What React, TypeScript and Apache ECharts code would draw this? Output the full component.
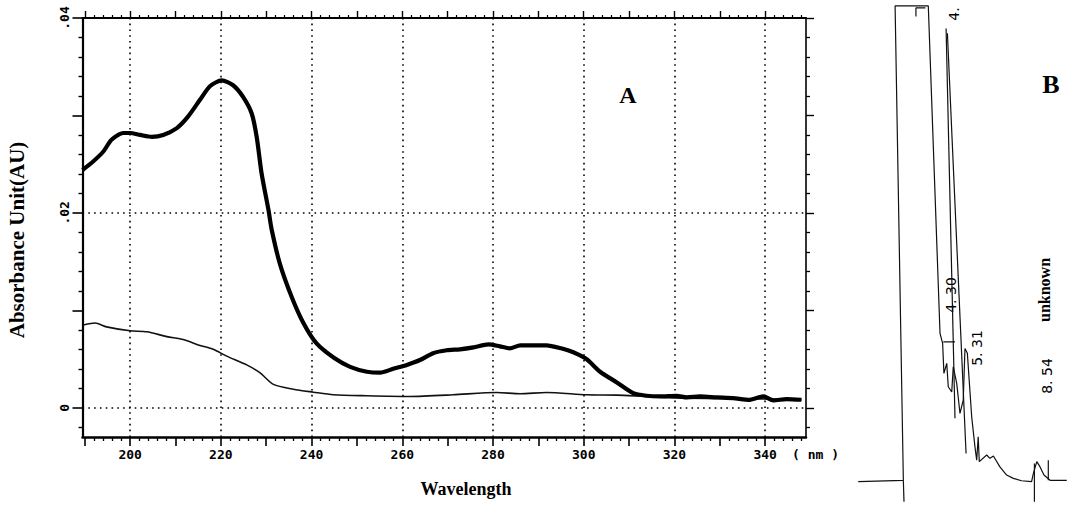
import React, { useEffect, useRef } from "react";
import * as echarts from "echarts";

// Panel A: UV spectrum (wavelength nm vs absorbance AU)
const sampleNm = [189.5, 191.9, 194.1, 195.9, 198.5, 200, 202.2, 204.8, 207.3, 210.3, 212.8, 215.4, 217.6, 220.2, 222.7, 224.9, 226.8, 227.9, 229.0, 230.5, 231.2, 233.0, 235.6, 238.2, 241.1, 245.0, 248.5, 252.2, 255.1, 258.0, 261.0, 263.9, 266.8, 269.8, 272.7, 275.7, 279.0, 281.5, 283.7, 286.0, 288.9, 291.8, 295.0, 297.7, 300.6, 303.6, 307.3, 310.9, 313.9, 316.8, 320.5, 322.7, 325.7, 329.3, 332.9, 336.6, 339.6, 341.8, 344.7, 348.0];
const sampleAU = [0.0244, 0.0253, 0.0263, 0.0275, 0.0282, 0.0282, 0.0280, 0.0278, 0.0280, 0.0287, 0.0299, 0.0316, 0.0330, 0.0336, 0.0331, 0.0319, 0.0302, 0.0278, 0.0240, 0.0203, 0.0183, 0.0148, 0.0114, 0.0087, 0.0066, 0.0051, 0.0042, 0.0037, 0.0036, 0.0040, 0.0044, 0.0049, 0.0056, 0.0059, 0.0060, 0.0062, 0.0065, 0.0063, 0.0061, 0.0064, 0.0064, 0.0064, 0.0061, 0.0057, 0.0050, 0.0037, 0.0026, 0.0015, 0.00123, 0.00116, 0.00123, 0.00106, 0.00116, 0.00106, 0.00099, 0.00082, 0.00116, 0.00075, 0.00089, 0.00082];
const blankNm = [189.7, 192.3, 194.8, 200, 203.7, 208.1, 211.7, 215.4, 218.3, 221.3, 225.7, 228.6, 231.6, 236.0, 240.4, 244.8, 252.2, 261.7, 271.2, 280.8, 286.0, 291.8, 300.6, 307.3, 312, 320, 330, 340, 348];
const blankAU = [0.0085, 0.0087, 0.0083, 0.0079, 0.0078, 0.0073, 0.0070, 0.0064, 0.0060, 0.0053, 0.0044, 0.0036, 0.0024, 0.0019, 0.0016, 0.00133, 0.00123, 0.00116, 0.00133, 0.00157, 0.00144, 0.00157, 0.00133, 0.0013, 0.0012, 0.0010, 0.00095, 0.0009, 0.0008];

const xMajorTicks = [190, 200, 210, 220, 230, 240, 250, 260, 270, 280, 290, 300, 310, 320, 330, 340];
const xLabels = [200, 220, 240, 260, 280, 300, 320, 340];
const yMajorTicks = [0, 0.01, 0.02, 0.03, 0.04];
const yLabels = [0, 0.02, 0.04];
const xGridValues = [200, 220, 240, 260, 280, 300, 320, 340];
const yGridValues = [0, 0.02];

// Panel B: chromatogram (time min vs response)
const chromTrace = [[0.30, 0.3], [2.38, 0.6], [2.00, 100], [3.53, 100], [4.07, 31.4], [4.19, 29.3], [4.25, 23.0], [4.38, 25.1], [4.45, 20.2], [4.61, 19.1], [4.68, 24.4], [4.84, 20.9], [4.99, 14.6], [5.14, 17.4], [5.22, 28.2], [5.33, 27.2], [5.53, 13.9], [5.68, 7.6], [5.76, 4.8], [5.83, 9.7], [5.88, 4.5], [6.22, 5.9], [6.37, 5.2], [6.53, 5.7], [6.83, 3.4], [7.14, 1.7], [7.45, 1.0], [7.83, 0.5], [8.29, 0.3], [8.37, 2.0], [8.53, 4.5], [8.68, 3.4], [8.86, 1.7], [9.14, 0.6], [9.91, 0.6]];
const peakLine1 = [[4.35, 95.3], [4.76, 13.6]];
const peakLine2 = [[4.41, 94.3], [5.27, 6.2]];
const bar430 = [[4.22, 29.6], [4.76, 29.6]];
const marker1 = [[2.38, 0.6], [2.41, -3.9]];
const marker2 = [[8.42, 4.1], [8.42, -3.9]];
const marker3 = [[9.06, 4.8], [9.06, 0.6]];
const bracket = [[2.96, 97.8], [2.96, 99.6], [3.4, 99.6]];

const xMinorTicks: number[] = [];
for (let v = 190; v <= 348; v += 2) if (v % 10 !== 0) xMinorTicks.push(v);
const yMinorTicks: number[] = [];
for (let k = -1; k <= 19; k++) if (k % 5 !== 0) yMinorTicks.push(Math.round(k * 2) / 1000);

const MONO = "'DejaVu Sans Mono', monospace";
const SERIF = "'Liberation Serif', 'DejaVu Serif', serif";

export default function App() {
  const ref = useRef<HTMLDivElement>(null);
  useEffect(() => {
    const chart = echarts.init(ref.current!, undefined, { renderer: "svg" });
    const xRange = { min: 189.5, max: 349 };
    const yRange = { min: -0.003, max: 0.04 };
    const line = (w: number) => ({ show: true, onZero: false, lineStyle: { color: "#000", width: w } });
    const noLine = { show: false, onZero: false };
    const blackLine = (data: number[][]) => ({
      type: "line", xAxisIndex: 4, yAxisIndex: 4, data, showSymbol: false, symbol: "none",
      lineStyle: { color: "#111", width: 1.2 }, silent: true,
    });
    chart.setOption({
      animation: false,
      backgroundColor: "#fff",
      grid: [
        { left: 82.5, top: 18, width: 723.5, height: 419, outerBoundsMode: "none" },
        { left: 851.7, top: 1.2, width: 217, height: 505.8, outerBoundsMode: "none" },
      ],
      xAxis: [
        {
          type: "value", gridIndex: 0, position: "bottom", ...xRange,
          axisLine: line(2.5),
          axisTick: { show: true, customValues: xMajorTicks, length: 9, lineStyle: { color: "#000", width: 1.6 } },
          axisLabel: { show: true, customValues: xLabels, margin: 11, color: "#000", fontFamily: MONO, fontWeight: "bold", fontSize: 13, formatter: (v: number) => String(v) },
          splitLine: { show: false },
        },
        {
          type: "value", gridIndex: 0, position: "bottom", ...xRange,
          axisLine: noLine,
          axisTick: { show: true, customValues: xMinorTicks, length: 4, lineStyle: { color: "#000", width: 1.3 } },
          axisLabel: { show: false }, splitLine: { show: false },
        },
        {
          type: "value", gridIndex: 0, position: "top", ...xRange,
          axisLine: line(2),
          axisTick: { show: true, customValues: xMajorTicks, length: 7, lineStyle: { color: "#000", width: 1.4 } },
          axisLabel: { show: false }, splitLine: { show: false },
        },
        {
          type: "value", gridIndex: 0, position: "top", ...xRange,
          axisLine: noLine,
          axisTick: { show: true, customValues: xMinorTicks, length: 3, lineStyle: { color: "#000", width: 1.2 } },
          axisLabel: { show: false }, splitLine: { show: false },
        },
        { type: "value", gridIndex: 1, min: 0, max: 10, show: false },
      ],
      yAxis: [
        {
          type: "value", gridIndex: 0, position: "left", ...yRange,
          axisLine: line(2.2),
          axisTick: { show: true, customValues: yMajorTicks, length: 10, lineStyle: { color: "#000", width: 1.6 } },
          axisLabel: {
            show: true, customValues: yLabels, rotate: 90, margin: 12, color: "#000", fontFamily: MONO, fontWeight: "bold", fontSize: 13,
            formatter: (v: number) => (Math.abs(v) < 1e-9 ? "0" : v.toFixed(2).replace(/^0/, "")),
          },
          splitLine: { show: false },
        },
        {
          type: "value", gridIndex: 0, position: "left", ...yRange,
          axisLine: noLine,
          axisTick: { show: true, customValues: yMinorTicks, length: 4, lineStyle: { color: "#000", width: 1.4 } },
          axisLabel: { show: false }, splitLine: { show: false },
        },
        {
          type: "value", gridIndex: 0, position: "right", ...yRange,
          axisLine: line(1.6),
          axisTick: { show: true, customValues: yMajorTicks, length: 8, lineStyle: { color: "#000", width: 1.4 } },
          axisLabel: { show: false }, splitLine: { show: false },
        },
        {
          type: "value", gridIndex: 0, position: "right", ...yRange,
          axisLine: noLine,
          axisTick: { show: true, customValues: yMinorTicks, length: 4, lineStyle: { color: "#000", width: 1.3 } },
          axisLabel: { show: false }, splitLine: { show: false },
        },
        { type: "value", gridIndex: 1, min: -5, max: 101, show: false },
      ],
      series: [
        {
          type: "line", xAxisIndex: 0, yAxisIndex: 0, showSymbol: false, symbol: "none", smooth: 0.25,
          data: blankNm.map((x, i) => [x, blankAU[i]]),
          lineStyle: { color: "#111", width: 1.6 },
          markLine: {
            silent: true, symbol: "none", label: { show: false },
            lineStyle: { color: "#000", width: 1.6, type: [1.6, 4.2] },
            data: [...xGridValues.map((v) => ({ xAxis: v })), ...yGridValues.map((v) => ({ yAxis: v }))],
          },
        },
        {
          type: "line", xAxisIndex: 0, yAxisIndex: 0, showSymbol: false, symbol: "none", smooth: 0.25,
          data: sampleNm.map((x, i) => [x, sampleAU[i]]),
          lineStyle: { color: "#000", width: 4.2 },
        },
        blackLine(chromTrace),
        blackLine(peakLine1),
        blackLine(peakLine2),
        blackLine(bar430),
        blackLine(marker1),
        blackLine(marker2),
        blackLine(marker3),
        blackLine(bracket),
      ],
      graphic: [
        { type: "text", x: 17, y: 240, rotation: Math.PI / 2, style: { text: "Absorbance Unit(AU)", font: `bold 21px ${SERIF}`, fill: "#000", align: "center", verticalAlign: "middle" } },
        { type: "text", x: 466, y: 489, style: { text: "Wavelength", font: `bold 18px ${SERIF}`, fill: "#000", align: "center", verticalAlign: "middle" } },
        { type: "text", x: 792, y: 454, style: { text: "( nm )", font: `bold 13px ${MONO}`, fill: "#000", align: "left", verticalAlign: "middle" } },
        { type: "text", x: 628, y: 95, style: { text: "A", font: `bold 24px ${SERIF}`, fill: "#000", align: "center", verticalAlign: "middle" } },
        { type: "text", x: 1051, y: 84, style: { text: "B", font: `bold 26px ${SERIF}`, fill: "#000", align: "center", verticalAlign: "middle" } },
        { type: "text", x: 1044, y: 290, rotation: Math.PI / 2, style: { text: "unknown", font: `bold 16px ${SERIF}`, fill: "#000", align: "center", verticalAlign: "middle" } },
        { type: "text", x: 1047, y: 376, rotation: Math.PI / 2, style: { text: "8. 54", font: `14px 'DejaVu Sans', sans-serif`, fill: "#000", align: "center", verticalAlign: "middle" } },
        { type: "text", x: 977, y: 348, rotation: Math.PI / 2, style: { text: "5. 31", font: `14px 'DejaVu Sans', sans-serif`, fill: "#000", align: "center", verticalAlign: "middle" } },
        { type: "text", x: 951, y: 295, rotation: Math.PI / 2, style: { text: "4. 30", font: `14px 'DejaVu Sans', sans-serif`, fill: "#000", align: "center", verticalAlign: "middle" } },
        { type: "text", x: 954, y: 14, rotation: Math.PI / 2, style: { text: "4.", font: `14px 'DejaVu Sans', sans-serif`, fill: "#000", align: "center", verticalAlign: "middle" } },
      ],
    });
    return () => chart.dispose();
  }, []);
  return <div ref={ref} style={{ position: "fixed", left: 0, top: 0, width: 1074, height: 515, background: "#fff" }} />;
}
